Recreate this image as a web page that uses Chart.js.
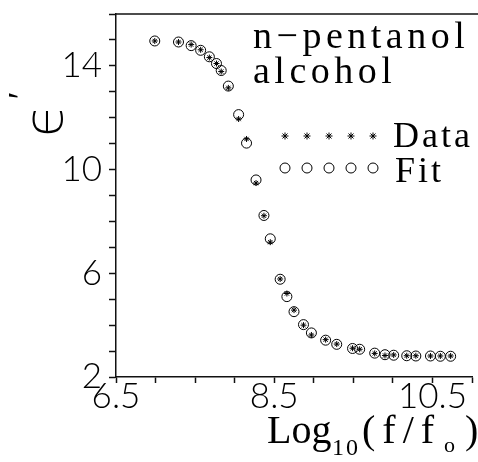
<!DOCTYPE html>
<html>
<head>
<meta charset="utf-8">
<title>n-pentanol dielectric constant</title>
<script src="https://cdn.jsdelivr.net/npm/chart.js@4.4.1/dist/chart.umd.min.js"></script>
<style>
  html, body { margin: 0; padding: 0; background: #fff; }
  #wrap { width: 478px; height: 462px; }
</style>
</head>
<body>
<div id="wrap"><canvas id="eps" width="478" height="462"></canvas></div>
<script>
// log10(f/fo) for each measured point
const logFreq = [6.99, 7.29, 7.45, 7.57, 7.68, 7.77, 7.83, 7.92, 8.05, 8.15,
  8.27, 8.37, 8.45, 8.575, 8.66, 8.75, 8.87, 8.97, 9.15, 9.29,
  9.49, 9.58, 9.77, 9.90, 10.01, 10.175, 10.29, 10.475, 10.6, 10.73];
// measured permittivity
const epsData = [14.96, 14.92, 14.82, 14.62, 14.32, 14.09, 13.78, 13.15, 11.95, 11.18,
  9.48, 8.22, 7.20, 5.78, 5.22, 4.58, 4.00, 3.62, 3.44, 3.27,
  3.11, 3.07, 2.91, 2.83, 2.85, 2.82, 2.82, 2.81, 2.81, 2.81];
// fitted permittivity
const epsFit = [14.96, 14.92, 14.78, 14.60, 14.35, 14.09, 13.82, 13.22, 12.12, 11.02,
  9.60, 8.23, 7.33, 5.77, 5.10, 4.52, 4.02, 3.70, 3.42, 3.26,
  3.10, 3.07, 2.92, 2.86, 2.84, 2.82, 2.81, 2.81, 2.80, 2.80];

const xLabels = [6.5, 8.5, 10.5];
const yLabels = [2, 6, 10, 14];

const tickFont = { family: "Lato, 'DejaVu Sans', sans-serif", size: 35, weight: 300 };
const serif = "'Liberation Serif', 'DejaVu Serif', serif";

const pts = (ys) => logFreq.map((x, i) => ({ x: x, y: ys[i] }));

// text, legend and frame drawn on top of the plot
const decor = {
  id: "decor",
  afterDraw(chart) {
    const ctx = chart.ctx;
    const a = chart.chartArea;
    ctx.save();
    ctx.strokeStyle = "#111";
    ctx.lineWidth = 1.5;
    ctx.beginPath();
    ctx.moveTo(a.left, a.top);
    ctx.lineTo(chart.width, a.top);
    ctx.stroke();

    ctx.fillStyle = "#000";
    ctx.textBaseline = "alphabetic";
    ctx.textAlign = "left";
    ctx.font = "38px " + serif;
    ctx.letterSpacing = "4.5px";
    ctx.fillText("n\u2212pentanol", 253, 48);
    ctx.fillText("alcohol", 253, 83);

    // legend rows
    const rows = [
      { ds: chart.data.datasets[1], y: 136, label: "Data", tx: 393, ty: 147 },
      { ds: chart.data.datasets[0], y: 168, label: "Fit", tx: 395, ty: 182 }
    ];
    rows.forEach((r) => {
      ctx.strokeStyle = "#000";
      ctx.fillStyle = "rgba(0,0,0,0)";
      ctx.lineWidth = 1;
      for (let k = 0; k < 5; k++) {
        Chart.helpers.drawPoint(ctx, {
          pointStyle: r.ds.pointStyle,
          radius: r.ds.pointStyle === "star" ? 3.5 : 5,
          borderWidth: 1
        }, 285 + k * 22, r.y);
      }
      ctx.fillStyle = "#000";
      ctx.font = "36px " + serif;
      ctx.letterSpacing = "3px";
      ctx.fillText(r.label, r.tx, r.ty);
    });

    // x title: Log10(f/fo)
    ctx.font = "40px " + serif;
    ctx.letterSpacing = "0px";
    ctx.fillText("Log", 267, 443);
    ctx.font = "24px " + serif;
    ctx.letterSpacing = "2px";
    ctx.fillText("10", 332, 455);
    ctx.font = "40px " + serif;
    ctx.letterSpacing = "7px";
    ctx.fillText("(f/f", 362, 443);
    ctx.font = "22px " + serif;
    ctx.letterSpacing = "0px";
    ctx.fillText("o", 444, 452);
    ctx.font = "40px " + serif;
    ctx.fillText(")", 465, 443);

    // y title, rotated: epsilon with a small prime
    ctx.translate(62, 137);
    ctx.rotate(-Math.PI / 2);
    ctx.font = "200 54px 'DejaVu Sans', sans-serif";
    ctx.fillText("\u03F5", 0, 0);
    ctx.font = "200 34px 'DejaVu Sans', sans-serif";
    ctx.fillText("\u2032", 38, -30);
    ctx.restore();
  }
};

new Chart(document.getElementById("eps"), {
  type: "scatter",
  data: {
    datasets: [
      {
        label: "Fit",
        data: pts(epsFit),
        pointStyle: "circle",
        pointRadius: 5,
        borderColor: "#000",
        backgroundColor: "rgba(0,0,0,0)",
        borderWidth: 1
      },
      {
        label: "Data",
        data: pts(epsData),
        pointStyle: "star",
        pointRadius: 3,
        borderColor: "#000",
        backgroundColor: "#000",
        borderWidth: 1
      }
    ]
  },
  options: {
    responsive: false,
    animation: false,
    events: [],
    layout: { padding: { top: 14, right: 2, left: 0, bottom: 0 } },
    plugins: { legend: { display: false }, tooltip: { enabled: false } },
    scales: {
      x: {
        type: "linear",
        min: 6.5,
        max: 11,
        afterFit: (s) => { s.height = 85; s.paddingLeft = 0; s.paddingRight = 0; },
        border: { color: "#111", width: 1.5 },
        grid: { drawOnChartArea: false, tickLength: 6, tickColor: "#111", tickWidth: 1.5 },
        ticks: {
          stepSize: 0.5,
          autoSkip: false,
          maxRotation: 0,
          padding: -7,
          color: "#000",
          font: tickFont,
          callback: (v) => (xLabels.includes(v) ? v.toFixed(1) : "")
        }
      },
      y: {
        type: "linear",
        min: 2,
        max: 16,
        afterFit: (s) => { s.width = 116; s.paddingTop = 0; s.paddingBottom = 0; },
        border: { color: "#111", width: 1.5 },
        grid: { drawOnChartArea: false, tickLength: 7, tickColor: "#111", tickWidth: 1.5 },
        ticks: {
          stepSize: 1,
          autoSkip: false,
          padding: 7,
          color: "#000",
          font: tickFont,
          callback: (v) => (yLabels.includes(v) ? String(v) : "")
        }
      }
    }
  },
  plugins: [decor]
});
</script>
</body>
</html>
